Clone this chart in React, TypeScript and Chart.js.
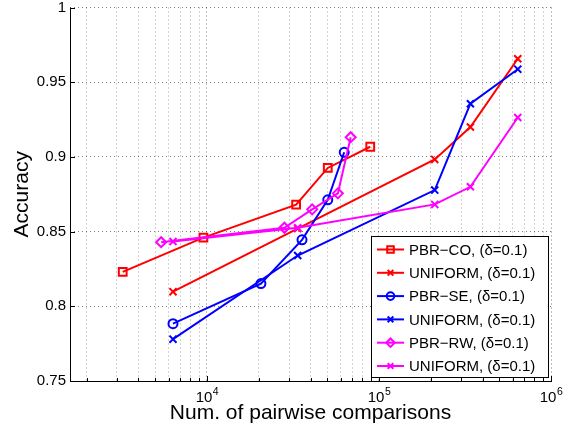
import React, { useEffect, useRef } from 'react';
import { Chart, registerables } from 'chart.js';

Chart.register(...registerables);

// ---- data ----
const pbrCoX = [3240, 9540, 33000, 50400, 89000];
const pbrCoY = [0.823, 0.846, 0.868, 0.8926, 0.9068];
const uniformX = [6350, 33700, 211000, 340000, 641000];
const uniformRedY = [0.8098, 0.852, 0.8983, 0.92, 0.9657];
const pbrSeX = [6350, 20600, 35700, 50400, 62800];
const pbrSeY = [0.7884, 0.8152, 0.8445, 0.8713, 0.9031];
const uniformBlueY = [0.778, 0.834, 0.8778, 0.9356, 0.9587];
const pbrRwX = [5420, 28200, 40900, 57700, 68500];
const pbrRwY = [0.8429, 0.8526, 0.8649, 0.8756, 0.9132];
const uniformMagY = [0.8434, 0.8526, 0.8682, 0.88, 0.9264];

const seriesLabels = [
  'PBR\u2212CO, (\u03b4=0.1)',
  'UNIFORM, (\u03b4=0.1)',
  'PBR\u2212SE, (\u03b4=0.1)',
  'UNIFORM, (\u03b4=0.1)',
  'PBR\u2212RW, (\u03b4=0.1)',
  'UNIFORM, (\u03b4=0.1)',
];

const xMin = 1600;
const xMax = 1000000;
const xTickExponents = [4, 5, 6];
const yTicks = [0.75, 0.8, 0.85, 0.9, 0.95, 1];
const yTickLabels = ['0.75', '0.8', '0.85', '0.9', '0.95', '1'];
const xTitle = 'Num. of pairwise comparisons';
const yTitle = 'Accuracy';

const FONT = "'Liberation Sans', Arial, Helvetica, sans-serif";

// grid values at 1..9 x 10^n inside range
const xGridValues: number[] = [];
for (let d = 3; d <= 6; d++) {
  for (let k = 1; k <= 9; k++) {
    const v = k * Math.pow(10, d);
    if (v > xMin && v <= xMax) xGridValues.push(v);
  }
}

const isMajor = (v: number) => Math.abs(Math.log10(v) - Math.round(Math.log10(v))) < 1e-9;

function pts(xs: number[], ys: number[]) {
  return xs.map((x, i) => ({ x, y: ys[i] }));
}

const seriesDefs = [
  { xs: pbrCoX, ys: pbrCoY, color: '#ff0000', style: 'rect', r: 5.5 },
  { xs: uniformX, ys: uniformRedY, color: '#ff0000', style: 'crossRot', r: 5 },
  { xs: pbrSeX, ys: pbrSeY, color: '#0000ff', style: 'circle', r: 4.5 },
  { xs: uniformX, ys: uniformBlueY, color: '#0000ff', style: 'crossRot', r: 5 },
  { xs: pbrRwX, ys: pbrRwY, color: '#ff00ff', style: 'rectRot', r: 5 },
  { xs: uniformX, ys: uniformMagY, color: '#ff00ff', style: 'crossRot', r: 5 },
];

function drawMarker(ctx: CanvasRenderingContext2D, style: string, x: number, y: number, r: number) {
  ctx.beginPath();
  if (style === 'rect') {
    const s = Math.SQRT1_2 * r;
    ctx.rect(x - s, y - s, 2 * s, 2 * s);
  } else if (style === 'circle') {
    ctx.arc(x, y, r, 0, Math.PI * 2);
  } else if (style === 'rectRot') {
    ctx.moveTo(x, y - r);
    ctx.lineTo(x + r, y);
    ctx.lineTo(x, y + r);
    ctx.lineTo(x - r, y);
    ctx.closePath();
  } else if (style === 'crossRot') {
    const s = Math.SQRT1_2 * r;
    ctx.moveTo(x - s, y - s);
    ctx.lineTo(x + s, y + s);
    ctx.moveTo(x - s, y + s);
    ctx.lineTo(x + s, y - s);
  }
  ctx.stroke();
}

const decorPlugin = {
  id: 'decor',
  afterDraw(chart: any) {
    const ctx: CanvasRenderingContext2D = chart.ctx;
    const ca = chart.chartArea;
    const xs = chart.scales.x;
    const ys = chart.scales.y;
    ctx.save();
    // axes
    ctx.strokeStyle = '#000';
    ctx.lineWidth = 1;
    ctx.setLineDash([]);
    ctx.beginPath();
    ctx.moveTo(ca.left + 0.5, ca.top);
    ctx.lineTo(ca.left + 0.5, ca.bottom + 0.5);
    ctx.lineTo(ca.right + 1, ca.bottom + 0.5);
    ctx.stroke();
    // inward ticks x
    ctx.beginPath();
    for (const v of xGridValues) {
      const px = Math.round(xs.getPixelForValue(v)) + 0.5;
      const len = isMajor(v) ? 5 : 3;
      ctx.moveTo(px, ca.bottom);
      ctx.lineTo(px, ca.bottom - len);
    }
    // inward ticks y
    for (const v of yTicks) {
      const py = Math.round(ys.getPixelForValue(v)) + 0.5;
      ctx.moveTo(ca.left, py);
      ctx.lineTo(ca.left + 5, py);
    }
    ctx.stroke();

    // x tick labels 10^n
    ctx.fillStyle = '#000';
    ctx.textBaseline = 'alphabetic';
    ctx.textAlign = 'left';
    for (const e of xTickExponents) {
      const px = xs.getPixelForValue(Math.pow(10, e));
      ctx.font = `15px ${FONT}`;
      const wb = ctx.measureText('10').width;
      ctx.font = `10.5px ${FONT}`;
      const we = ctx.measureText(String(e)).width;
      const start = px - (wb + we) / 2;
      ctx.font = `15px ${FONT}`;
      ctx.fillText('10', start, ca.bottom + 21);
      ctx.font = `10.5px ${FONT}`;
      ctx.fillText(String(e), start + wb + 0.5, ca.bottom + 14);
    }

    // legend
    const lw = 177;
    const lh = 141;
    const lx = ca.right - 3 - lw;
    const ly = ca.bottom - 4 - lh;
    ctx.fillStyle = '#fff';
    ctx.fillRect(lx, ly, lw, lh);
    ctx.strokeStyle = '#000';
    ctx.lineWidth = 1;
    ctx.strokeRect(Math.round(lx) + 0.5, Math.round(ly) + 0.5, lw, lh);
    ctx.font = `15px ${FONT}`;
    ctx.textBaseline = 'middle';
    chart.data.datasets.forEach((ds: any, i: number) => {
      const def = seriesDefs[i];
      const ry = ly + 13.5 + i * 23.3;
      ctx.strokeStyle = def.color;
      ctx.lineWidth = 2;
      ctx.beginPath();
      ctx.moveTo(lx + 6, ry);
      ctx.lineTo(lx + 33, ry);
      ctx.stroke();
      drawMarker(ctx, def.style, lx + 19.5, ry, def.style === 'crossRot' ? 4 : def.r * 0.85);
      ctx.fillStyle = '#000';
      ctx.fillText(ds.label, lx + 38, ry + 1);
    });
    ctx.restore();
  },
};

export default function App() {
  const ref = useRef<HTMLCanvasElement>(null);
  useEffect(() => {
    document.body.style.margin = '0';
    const canvas = ref.current!;
    Chart.defaults.font.family = FONT;
    const datasets = seriesDefs.map((d, i) => ({
      label: seriesLabels[i],
      data: pts(d.xs, d.ys),
      borderColor: d.color,
      backgroundColor: d.color,
      borderWidth: 2,
      pointStyle: d.style as any,
      pointRadius: d.r,
      pointBorderWidth: 2,
      pointBorderColor: d.color,
      pointBackgroundColor: 'rgba(0,0,0,0)',
      fill: false,
      tension: 0,
      order: seriesDefs.length - i,
    }));
    const chart = new Chart(canvas, {
      type: 'line',
      data: { datasets },
      plugins: [decorPlugin],
      options: {
        animation: false,
        responsive: false,
        devicePixelRatio: 1,
        layout: { padding: { left: 0, right: 19, top: 2, bottom: 0 } },
        plugins: { legend: { display: false }, tooltip: { enabled: false } },
        scales: {
          x: {
            type: 'logarithmic',
            min: xMin,
            max: xMax,
            afterBuildTicks: (s: any) => {
              s.ticks = xGridValues.map((v) => ({ value: v }));
            },
            afterFit: (s: any) => {
              s.height = 51;
              s.paddingLeft = 0;
              s.paddingRight = 0;
            },
            ticks: { display: false },
            grid: {
              drawTicks: false,
              lineWidth: 1,
              color: (c: any) => (c.tick && isMajor(c.tick.value) ? 'rgba(0,0,0,0.5)' : 'rgba(0,0,0,0.35)'),
            },
            border: { display: false, dash: [1, 3] },
            title: {
              display: true,
              text: xTitle,
              color: '#000',
              font: { size: 21, family: FONT },
              padding: { top: 0, bottom: 6 },
            },
          },
          y: {
            type: 'linear',
            min: 0.75,
            max: 1,
            afterBuildTicks: (s: any) => {
              s.ticks = yTicks.map((v) => ({ value: v }));
            },
            afterFit: (s: any) => {
              s.width = 70;
              s.paddingTop = 0;
              s.paddingBottom = 0;
            },
            ticks: {
              color: '#000',
              font: { size: 15, family: FONT },
              padding: 4,
              callback: (v: any) => {
                const idx = yTicks.findIndex((t) => Math.abs(t - Number(v)) < 1e-9);
                return idx >= 0 ? yTickLabels[idx] : '';
              },
            },
            grid: { drawTicks: false, lineWidth: 1, color: 'rgba(0,0,0,0.5)' },
            border: { display: false, dash: [1, 3] },
            title: {
              display: true,
              text: yTitle,
              color: '#000',
              font: { size: 21, family: FONT },
              padding: { top: 10, bottom: 0 },
            },
          },
        },
      } as any,
    });
    return () => chart.destroy();
  }, []);
  return (
    <div style={{ width: 570, height: 432 }}>
      <canvas ref={ref} width={570} height={432} style={{ display: 'block', width: 570, height: 432 }} />
    </div>
  );
}
